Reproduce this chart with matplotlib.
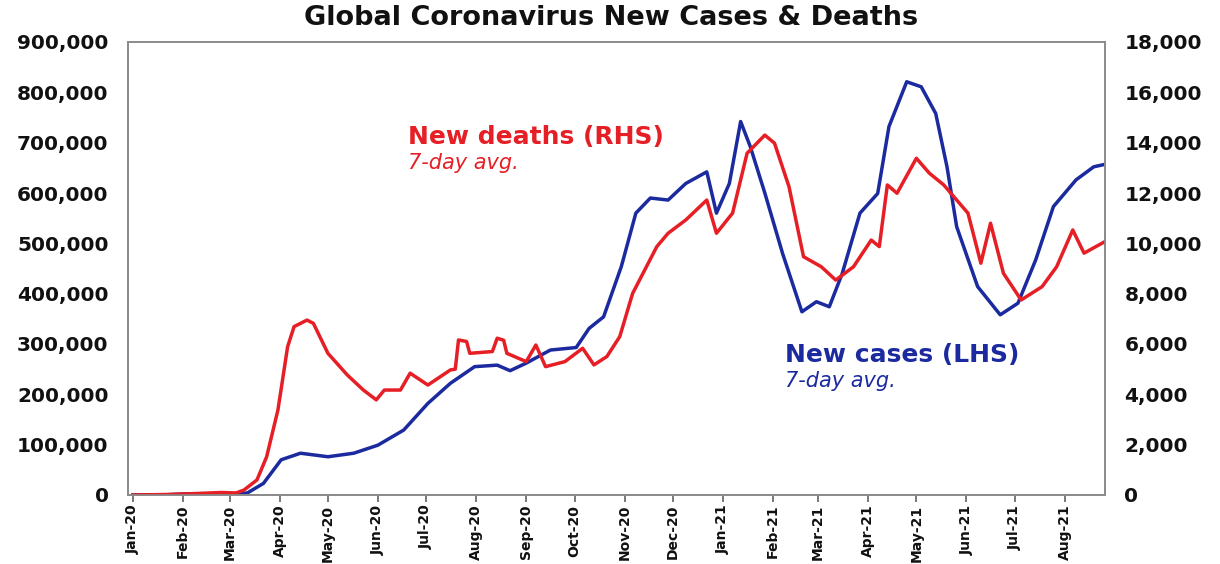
import matplotlib
matplotlib.use("Agg")
import matplotlib.pyplot as plt
import matplotlib.dates as mdates
from matplotlib.ticker import FuncFormatter, MultipleLocator
import pandas as pd

# ---- data ----
case_dates = ["2020-01-01", "2020-01-22", "2020-02-05", "2020-02-20", "2020-03-01", "2020-03-12",
              "2020-03-22", "2020-04-02", "2020-04-14", "2020-05-01", "2020-05-17",
              "2020-06-01", "2020-06-17", "2020-07-02", "2020-07-16", "2020-07-31",
              "2020-08-14", "2020-08-22", "2020-09-01", "2020-09-16", "2020-10-02",
              "2020-10-10", "2020-10-19", "2020-10-30", "2020-11-08", "2020-11-17",
              "2020-11-28", "2020-12-09", "2020-12-22", "2020-12-28", "2021-01-05",
              "2021-01-12", "2021-01-18", "2021-01-27", "2021-02-07", "2021-02-19",
              "2021-02-28", "2021-03-08", "2021-03-16", "2021-03-27", "2021-04-07",
              "2021-04-14", "2021-04-25", "2021-05-04", "2021-05-13", "2021-05-20",
              "2021-05-26", "2021-06-08", "2021-06-22", "2021-07-03", "2021-07-14",
              "2021-07-25", "2021-08-08", "2021-08-19", "2021-08-26"]
new_cases = [0, 500, 2500, 1500, 1500, 4000,
             23000, 70000, 83000, 76000, 83000,
             99000, 129000, 182000, 222000, 255000,
             258000, 247000, 262000, 288000, 293000,
             331000, 354000, 454000, 560000, 590000,
             586000, 619000, 642000, 560000, 619000,
             742000, 692000, 600000, 480000, 364000,
             384000, 374000, 440000, 560000, 599000,
             732000, 821000, 811000, 758000, 652000,
             533000, 414000, 358000, 381000, 467000,
             573000, 626000, 652000, 657000]

death_dates = ["2020-01-01", "2020-01-22", "2020-02-10", "2020-02-25", "2020-03-05", "2020-03-10",
               "2020-03-18", "2020-03-24", "2020-03-31", "2020-04-06", "2020-04-10",
               "2020-04-18", "2020-04-22", "2020-05-01", "2020-05-13", "2020-05-23",
               "2020-05-31", "2020-06-05", "2020-06-15", "2020-06-21", "2020-07-02",
               "2020-07-16", "2020-07-19", "2020-07-21", "2020-07-26", "2020-07-28",
               "2020-08-11", "2020-08-14", "2020-08-18", "2020-08-20", "2020-09-01",
               "2020-09-07", "2020-09-13", "2020-09-25", "2020-10-06", "2020-10-13",
               "2020-10-21", "2020-10-29", "2020-11-06", "2020-11-21", "2020-11-28",
               "2020-12-09", "2020-12-22", "2020-12-28", "2021-01-07", "2021-01-16",
               "2021-01-27", "2021-02-02", "2021-02-11", "2021-02-20", "2021-03-03",
               "2021-03-12", "2021-03-23", "2021-04-03", "2021-04-08", "2021-04-13",
               "2021-04-19", "2021-05-01", "2021-05-09", "2021-05-18", "2021-05-26",
               "2021-06-02", "2021-06-10", "2021-06-16", "2021-06-24", "2021-07-05",
               "2021-07-18", "2021-07-27", "2021-08-06", "2021-08-13", "2021-08-26"]
new_deaths = [0, 20, 60, 100, 80, 200,
              600, 1520, 3380, 5890, 6690,
              6950, 6820, 5630, 4770, 4170,
              3780, 4170, 4170, 4840, 4370,
              4970, 5000, 6160, 6100, 5630,
              5700, 6230, 6150, 5630, 5300,
              5960, 5100, 5300, 5830, 5170,
              5500, 6290, 8010, 9870, 10400,
              10930, 11720, 10400, 11200, 13580,
              14300, 13980, 12250, 9470, 9070,
              8540, 9070, 10130, 9870, 12320,
              11990, 13380, 12790, 12320, 11720,
              11200, 9210, 10800, 8810, 7750,
              8280, 9070, 10530, 9610, 10070]

title = "Global Coronavirus New Cases & Deaths"
deaths_label = "New deaths (RHS)"
cases_label = "New cases (LHS)"
avg_label = "7-day avg."

BLUE = "#1B2A9E"
RED = "#E61E25"
W, H = 1220, 564

plt.rcParams["font.family"] = ["DejaVu Sans"]
fig = plt.figure(figsize=(W / 100, H / 100), dpi=100)
ax = fig.add_axes([128 / W, 1 - 495 / H, (1105 - 128) / W, (495 - 42) / H])
ax2 = ax.twinx()

cd = pd.to_datetime(case_dates)
dd = pd.to_datetime(death_dates)
ax.plot(cd, new_cases, color=BLUE, lw=2.5, solid_joinstyle="round")
ax2.plot(dd, new_deaths, color=RED, lw=2.5, solid_joinstyle="round")

ax.set_xlim(pd.Timestamp("2019-12-29"), pd.Timestamp("2021-08-26"))
ax.set_ylim(0, 900000)
ax2.set_ylim(0, 18000)
ax.yaxis.set_major_locator(MultipleLocator(100000))
ax2.yaxis.set_major_locator(MultipleLocator(2000))
fmt = FuncFormatter(lambda v, p: f"{int(v):,}")
ax.yaxis.set_major_formatter(fmt)
ax2.yaxis.set_major_formatter(fmt)

ax.xaxis.set_major_locator(mdates.MonthLocator())
ax.xaxis.set_major_formatter(mdates.DateFormatter("%b-%y"))

for a in (ax, ax2):
    for s in a.spines.values():
        s.set_color("#8a8a8a")
        s.set_linewidth(1.2)

ax.tick_params(axis="y", length=0, pad=14, labelsize=14.5, colors="#111111")
ax2.tick_params(axis="y", length=0, pad=14, labelsize=14.5, colors="#111111")
ax.tick_params(axis="x", length=5, width=1.1, color="#555555", pad=2,
               labelsize=10, labelrotation=90, labelcolor="#111111")
for lab in ax.get_yticklabels() + ax2.get_yticklabels() + ax.get_xticklabels():
    lab.set_fontweight("bold")

fig.text(611 / W, 1 - 18 / H, title, ha="center", va="center",
         fontsize=19.5, fontweight="bold", color="#111111")
fig.text(408 / W, 1 - 137 / H, deaths_label, ha="left", va="center",
         fontsize=18, fontweight="bold", color=RED)
fig.text(408 / W, 1 - 163 / H, avg_label, ha="left", va="center",
         fontsize=15, style="italic", color=RED)
fig.text(785 / W, 1 - 355 / H, cases_label, ha="left", va="center",
         fontsize=18, fontweight="bold", color=BLUE)
fig.text(785 / W, 1 - 381 / H, avg_label, ha="left", va="center",
         fontsize=15, style="italic", color=BLUE)

fig.savefig("out.png", dpi=100)
